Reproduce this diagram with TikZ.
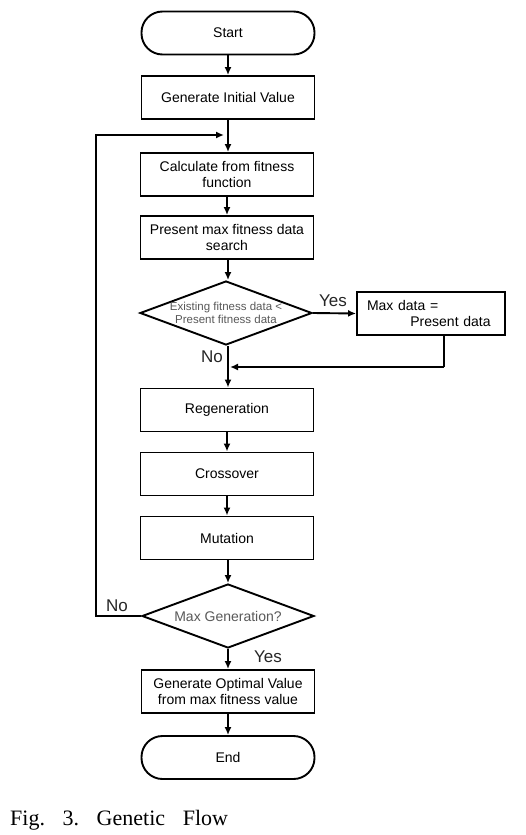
\documentclass[tikz,border=0pt]{standalone}
\usepackage{fontspec}
\newfontfamily\arial{Liberation Sans}
\newfontfamily\capfont{Liberation Serif}
\usetikzlibrary{shapes.geometric,arrows.meta}
\begin{document}
\begin{tikzpicture}[x=1pt,y=-1pt,
  box/.style={draw, line width=1.9pt, minimum width=173pt, minimum height=43pt, inner sep=2pt, align=center, font=\arial\fontsize{14}{16.5}\selectfont},
  term/.style={box, rounded corners=21pt},
  dec/.style={draw, line width=1.9pt, diamond, aspect=2.7, minimum width=172pt, minimum height=64pt, inner sep=0pt, align=center, text=black!65},
  arr/.style={line width=1.9pt, -{Latex[length=8pt,width=7pt]}},
  ln/.style={line width=1.9pt},
  lab/.style={font=\arial\fontsize{17}{19}\selectfont, text=black!85}
]
\useasboundingbox (0,0) rectangle (525,835);
\fill[white] (0,0) rectangle (525,835);

\node[term] (start) at (228,33) {Start};
\node[box] (gen) at (228,97.5) {Generate Initial Value};
\node[box] (calc) at (227,174.5) {Calculate from fitness\\function};
\node[box] (pres) at (227,237.5) {Present max fitness data\\search};
\node[dec, font=\arial\fontsize{11.5}{13}\selectfont] (d1) at (226,313) {Existing fitness data <\\Present fitness data};
\node[box, minimum width=148pt, text width=128pt, align=left] (maxd) at (431,313.5) {Max data =\\\hspace*{3.1em}Present data};
\node[box] (regen) at (227,410) {Regeneration};
\node[box] (cross) at (227,474) {Crossover};
\node[box] (mut) at (227,538) {Mutation};
\node[dec, font=\arial\fontsize{14}{16}\selectfont] (d2) at (228,616) {Max Generation?};
\node[box] (opt) at (228,691.5) {Generate Optimal Value\\from max fitness value};
\node[term] (end) at (228,757.5) {End};

\coordinate (loopjoin) at (228,135);
\coordinate (loopbl) at (96,616);
\coordinate (looptl) at (96,135);
\coordinate (retdown) at (444,367);
\coordinate (retjoin) at (228,367);

\draw[arr] (start) -- (gen);
\draw[arr] (gen.south -| 228,0) -- (calc.north -| 228,0);
\draw[arr] (d2.west) -- (loopbl) -- (looptl) -- ([xshift=-4pt]loopjoin);
\draw[arr] (calc) -- (pres);
\draw[arr] (pres.south -| 228,0) -- (d1.north -| 228,0);
\draw[arr] (d1.east) -- (maxd.west);
\draw[arr] (d1.south -| 228,0) -- (regen.north -| 228,0);
\draw[ln] (maxd.south -| retdown) -- (retdown);
\draw[arr] (retdown) -- ([xshift=2pt]retjoin);
\draw[arr] (regen) -- (cross);
\draw[arr] (cross) -- (mut);
\draw[arr] (mut.south -| 228,0) -- (d2.north);
\draw[arr] (d2) -- (opt);
\draw[arr] (opt) -- (end);

\node[lab] (yes1) at (333,301) {Yes};
\node[lab] (no1) at (212,357) {No};
\node[lab] (no2) at (117,606) {No};
\node[lab] (yes2) at (268,657) {Yes};

\node[anchor=base west, font=\capfont\fontsize{22}{25}\selectfont, inner sep=0pt] (cap) at (10,825) {Fig.\hspace{0.8em}3.\hspace{0.8em}Genetic\hspace{0.8em}Flow};
\end{tikzpicture}
\end{document}
